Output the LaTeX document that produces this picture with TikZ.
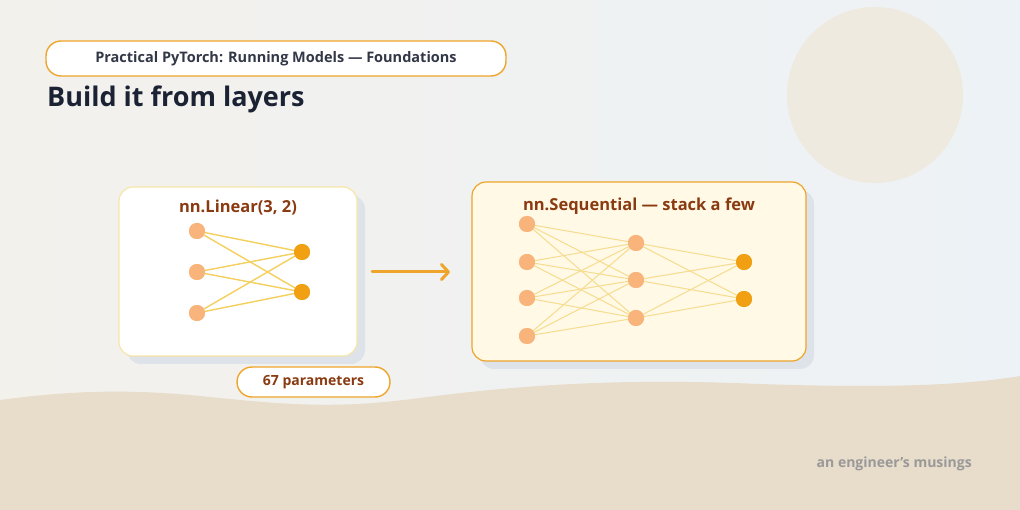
\documentclass[tikz,border=0pt]{standalone}
\usepackage{fontspec}
\setmainfont{Open Sans}
\usepackage{xcolor}
\usetikzlibrary{positioning,arrows.meta}

\definecolor{skyback}{HTML}{EDF2F6}
\definecolor{warmback}{HTML}{F3F1EC}
\definecolor{sand}{HTML}{E8DCCA}
\definecolor{sun}{HTML}{EFEADF}
\definecolor{amber}{HTML}{EFA52C}
\definecolor{rust}{HTML}{8A3A10}
\definecolor{ink}{HTML}{1B2233}
\definecolor{pale}{HTML}{F6E6A8}
\definecolor{cream}{HTML}{FFF9E6}
\definecolor{inputdot}{HTML}{F8B47A}
\definecolor{outputdot}{HTML}{F0A012}
\definecolor{wire}{HTML}{F4D05E}
\definecolor{softwire}{HTML}{F6DC8E}
\definecolor{panelshadow}{HTML}{DEE3E9}

\begin{document}
\begin{tikzpicture}[
    x=1pt, y=-1pt,
    pill/.style={
        draw=amber,
        line width=1.4pt,
        rounded corners=15pt,
        fill=white,
        inner sep=0pt,
        font=\bfseries,
    },
    panel/.style={
        line width=1.2pt,
        rounded corners=14pt,
        inner sep=0pt,
    },
    unit/.style={circle, inner sep=0pt, minimum size=16pt},
    inunit/.style={unit, fill=inputdot},
    outunit/.style={unit, fill=outputdot},
    link/.style={wire, line width=1.4pt},
    thinlink/.style={softwire, line width=1pt},
    caption/.style={font=\fontsize{16.5}{20}\selectfont\bfseries, text=rust},
]

% ----- Background -----
\shade[left color=warmback, right color=skyback] (0,0) rectangle (1020,510);
\fill[sun] (875,95) circle (88);
\fill[sand] (0,400) .. controls (60,392) and (120,388) .. (200,396)
    .. controls (280,404) and (330,410) .. (420,398)
    .. controls (520,385) and (620,378) .. (760,384)
    .. controls (880,388) and (960,386) .. (1020,376)
    -- (1020,510) -- (0,510) -- cycle;

% ----- Header -----
\node[pill, minimum width=460pt, minimum height=35pt, font=\fontsize{14.5}{18}\selectfont\bfseries, text=ink!90]
    (series) at (276,58.5) {Practical PyTorch: Running Models — Foundations};
\node[anchor=base west, inner sep=0pt, font=\fontsize{27}{32}\selectfont\bfseries, text=ink]
    (headline) at (47,107) {Build it from layers};

% ----- Left panel: one layer -----
\fill[panelshadow, rounded corners=14pt] (127,195) rectangle (365,364);
\node[panel, draw=pale, fill=white, minimum width=238pt, minimum height=169pt]
    (single) at (238,271.5) {};
\node[caption] (singletitle) at (238,208) {nn.Linear(3, 2)};

\foreach \i/\y in {1/231,2/272,3/313}
    \node[inunit] (in\i) at (197,\y) {};
\foreach \j/\y in {1/252,2/292}
    \node[outunit] (out\j) at (302,\y) {};
\foreach \i in {1,2,3}
    \foreach \j in {1,2}
        \draw[link] (in\i) -- (out\j);
\foreach \i/\y in {1/231,2/272,3/313}
    \fill[inputdot] (197,\y) circle (8);
\foreach \j/\y in {1/252,2/292}
    \fill[outputdot] (302,\y) circle (8);

\node[pill, minimum width=153pt, minimum height=30pt, font=\fontsize{14}{17}\selectfont\bfseries, text=rust]
    (count) at (313.5,382) {67 parameters};

% ----- Right panel: stacked layers -----
\fill[panelshadow, rounded corners=14pt] (480,190) rectangle (814,369);
\node[panel, draw=amber, fill=cream, minimum width=334pt, minimum height=179pt]
    (stack) at (639,271.5) {};
\node[caption] (stacktitle) at (639,206) {nn.Sequential — stack a few};

\foreach \i/\y in {1/224,2/262,3/298,4/336}
    \node[inunit] (a\i) at (527,\y) {};
\foreach \j/\y in {1/243,2/280,3/318}
    \node[inunit] (b\j) at (636,\y) {};
\foreach \k/\y in {1/262,2/299}
    \node[outunit] (c\k) at (744,\y) {};
\foreach \i in {1,...,4}
    \foreach \j in {1,2,3}
        \draw[thinlink] (a\i) -- (b\j);
\foreach \j in {1,2,3}
    \foreach \k in {1,2}
        \draw[thinlink] (b\j) -- (c\k);
\foreach \i/\y in {1/224,2/262,3/298,4/336}
    \fill[inputdot] (527,\y) circle (8);
\foreach \j/\y in {1/243,2/280,3/318}
    \fill[inputdot] (636,\y) circle (8);
\foreach \k/\y in {1/262,2/299}
    \fill[outputdot] (744,\y) circle (8);

% ----- Arrow between panels -----
\coordinate (arrowtail) at (372,272);
\coordinate (arrowhead) at (450,272);
\draw[amber, line width=3pt, line cap=round, -{Straight Barb[length=7pt, width=15pt, line width=3pt, round]}]
    (arrowtail) -- (arrowhead);

% ----- Footer -----
\node[anchor=east, inner sep=0pt, font=\fontsize{14}{17}\selectfont\bfseries, text=black!40]
    (signature) at (972,464) {an engineer's musings};

\end{tikzpicture}
\end{document}
